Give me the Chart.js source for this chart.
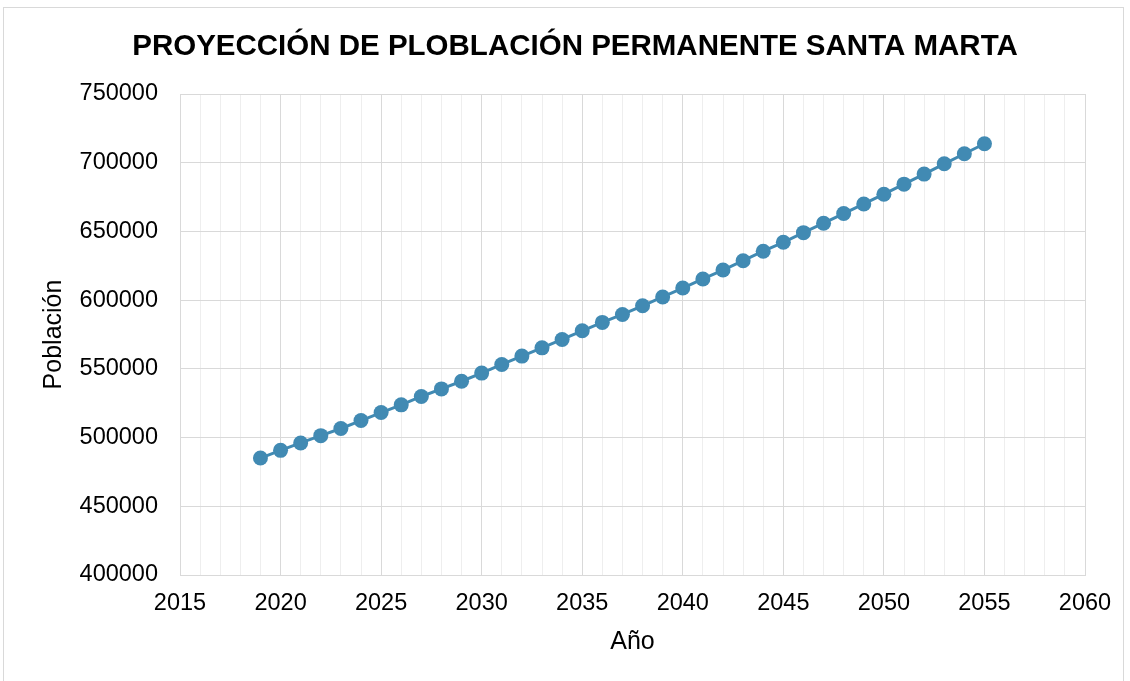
<!DOCTYPE html>
<html>
<head>
<meta charset="utf-8">
<script src="https://cdn.jsdelivr.net/npm/chart.js@4/dist/chart.umd.min.js"></script>
<style>
  body { margin: 0; background: #fff; }
  #wrap { position: relative; width: 1130px; height: 681px; }
  #frame { position: absolute; left: 3px; top: 7px; width: 1121px; height: 680px; border: 1px solid #d9d9d9; box-sizing: border-box; }
</style>
</head>
<body>
<div id="wrap">
  <div id="frame"></div>
  <canvas id="popChart" width="1130" height="681"></canvas>
</div>
<script>
const years = [
  2019, 2020, 2021, 2022, 2023, 2024, 2025, 2026, 2027, 2028,
  2029, 2030, 2031, 2032, 2033, 2034, 2035, 2036, 2037, 2038,
  2039, 2040, 2041, 2042, 2043, 2044, 2045, 2046, 2047, 2048,
  2049, 2050, 2051, 2052, 2053, 2054, 2055
];
const population = [
  485100, 490700, 496100, 501400, 506600, 512400, 518200, 523800, 529900, 535400,
  541000, 546900, 553200, 559300, 565300, 571400, 577700, 583800, 589600, 595900,
  602300, 608800, 615400, 621900, 628700, 635600, 642100, 649100, 656000, 663000,
  670000, 677100, 684400, 691700, 699200, 706500, 713800
];
const xRange = [2015, 2060];
const yRange = [400000, 750000];

const lineColor = '#418ab3';
const majorGrid = '#d9d9d9';
const minorGrid = '#eeeeee';
const font = 'Arial, "Liberation Sans", sans-serif';

const ctx = document.getElementById('popChart');

new Chart(ctx, {
  type: 'line',
  data: {
    datasets: [{
      label: 'Población',
      data: years.map((y, i) => ({ x: y, y: population[i] })),
      borderColor: lineColor,
      backgroundColor: lineColor,
      borderWidth: 3,
      pointRadius: 7.5,
      pointBorderWidth: 0,
      tension: 0,
      fill: false
    }]
  },
  options: {
    responsive: false,
    animation: false,
    layout: { padding: { left: 20, right: 0, top: 0, bottom: 0 } },
    plugins: {
      legend: { display: false },
      tooltip: { enabled: false },
      title: {
        display: true,
        text: 'PROYECCIÓN DE PLOBLACIÓN PERMANENTE SANTA MARTA',
        color: '#000',
        font: { family: font, size: 29.5, weight: 'bold' },
        padding: { top: 29, bottom: 29.6 }
      }
    },
    scales: {
      x: {
        type: 'linear',
        min: xRange[0],
        max: xRange[1],
        afterFit: scale => { scale.height = 106; },
        border: { color: majorGrid, width: 1 },
        grid: {
          drawTicks: false,
          color: c => (c.tick && c.tick.value % 5 === 0 ? majorGrid : minorGrid),
          lineWidth: 1
        },
        ticks: {
          stepSize: 1,
          autoSkip: false,
          maxRotation: 0,
          padding: 14,
          color: '#000',
          font: { family: font, size: 23.5 },
          callback: v => (v % 5 === 0 ? String(v) : '')
        },
        title: {
          display: true,
          text: 'Año',
          color: '#000',
          font: { family: font, size: 25 },
          padding: { top: 0, bottom: 24 }
        }
      },
      y: {
        min: yRange[0],
        max: yRange[1],
        afterFit: scale => { scale.width = 160; },
        border: { color: majorGrid, width: 1 },
        grid: { drawTicks: false, color: majorGrid, lineWidth: 1 },
        ticks: {
          stepSize: 50000,
          padding: 22,
          color: '#000',
          font: { family: font, size: 23.5 },
          callback: v => String(v)
        },
        title: {
          display: true,
          text: 'Población',
          color: '#000',
          font: { family: font, size: 25 },
          padding: { top: 19.5, bottom: 0 }
        }
      },
      // empty right-hand axis, only reserves the margin right of the plot
      yRight: {
        position: 'right',
        display: true,
        afterFit: scale => { scale.width = 45; },
        grid: { display: false },
        border: { display: false },
        ticks: { display: false },
        title: { display: false }
      }
    }
  }
});
</script>
</body>
</html>
